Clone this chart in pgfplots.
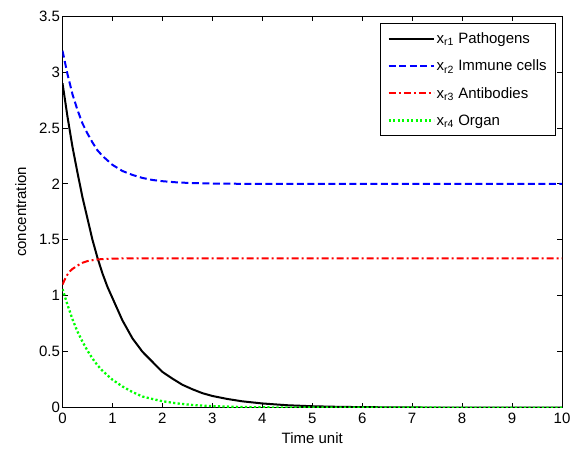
\documentclass[border=0pt]{standalone}
\usepackage{pgfplots}
\pgfplotsset{compat=1.18}
\usepackage{fontspec}
\setmainfont{Liberation Sans}
\begin{document}
\begin{tikzpicture}
\begin{axis}[
  at={(0,0)}, anchor=south west,
  scale only axis, width=499.5pt, height=391.7pt,
  xmin=0, xmax=10, ymin=0, ymax=3.5,
  xtick={0,1,...,10}, ytick={0,0.5,...,3.5},
  yticklabels={0,0.5,1,1.5,2,2.5,3,3.5},
  tick align=inside, major tick length=5pt,
  xtick pos=both, ytick pos=both,
  axis line style={line width=1pt},
  tick style={line width=0.8pt, black},
  /pgf/number format/assume math mode=true,
  tick label style={font=\fontsize{15}{17}\selectfont},
  label style={font=\fontsize{15}{17}\selectfont},
  xlabel={Time unit}, ylabel={concentration},
  xlabel style={yshift=-2pt},
  ylabel style={yshift=6pt},
  yticklabel style={xshift=1pt},
  xticklabel style={yshift=-2pt},
  legend cell align=left,
  legend style={at={(0.988,0.982)}, anchor=north east, font=\fontsize{15}{17}\selectfont,
     draw=black, line width=0.8pt, row sep=11pt, inner xsep=7pt, inner ysep=7pt},
  legend image code/.code={\draw[#1] (0pt,0pt) -- (45pt,0pt);},
]
\addplot[black, line width=2pt] coordinates {
(0,2.90) (0.1,2.60) (0.2,2.33) (0.3,2.10) (0.4,1.88) (0.5,1.69) (0.6,1.50) (0.7,1.34) (0.8,1.20) (0.9,1.08)
(1.0,0.98) (1.2,0.78) (1.4,0.62) (1.6,0.50) (1.8,0.41) (2.0,0.32) (2.2,0.26) (2.4,0.205) (2.6,0.165) (2.8,0.13)
(3.0,0.105) (3.3,0.078) (3.6,0.057) (4.0,0.038) (4.5,0.022) (5,0.013) (5.5,0.008) (6,0.005) (7,0.002) (8,0.001) (10,0.0)};
\addlegendentry{x\textsubscript{r1} Pathogens}
\addplot[blue, line width=2pt, dash pattern=on 7pt off 3.5pt] coordinates {
(0,3.19) (0.1,2.98) (0.2,2.80) (0.3,2.66) (0.4,2.54) (0.5,2.45) (0.6,2.37) (0.7,2.30) (0.8,2.25) (0.9,2.21)
(1.0,2.17) (1.2,2.115) (1.4,2.08) (1.6,2.053) (1.8,2.035) (2.0,2.024) (2.3,2.013) (2.6,2.007) (3.0,2.003) (3.5,2.001) (4,2.0) (10,2.0)};
\addlegendentry{x\textsubscript{r2} Immune cells}
\addplot[red, line width=2pt, dash pattern=on 7pt off 3pt on 2pt off 3pt] coordinates {
(0,1.10) (0.05,1.15) (0.1,1.19) (0.15,1.22) (0.2,1.24) (0.3,1.27) (0.4,1.295) (0.5,1.31) (0.6,1.318) (0.7,1.325)
(0.85,1.329) (1.0,1.332) (1.3,1.334) (1.6,1.335) (10,1.335)};
\addlegendentry{x\textsubscript{r3} Antibodies}
\addplot[green, line width=2.3pt, dash pattern=on 2.2pt off 2.3pt] coordinates {
(0,1.06) (0.1,0.92) (0.2,0.79) (0.3,0.68) (0.4,0.59) (0.5,0.51) (0.6,0.44) (0.7,0.38) (0.8,0.33) (0.9,0.29)
(1.0,0.25) (1.2,0.19) (1.4,0.14) (1.6,0.10) (1.8,0.078) (2.0,0.058) (2.3,0.038) (2.6,0.024) (3.0,0.014) (3.5,0.007) (4,0.003) (5,0.001) (10,0)};
\addlegendentry{x\textsubscript{r4} Organ}
\end{axis}
\path (-62.5pt,-43.3pt) rectangle (513.5pt,407.7pt);
\end{tikzpicture}
\end{document}
